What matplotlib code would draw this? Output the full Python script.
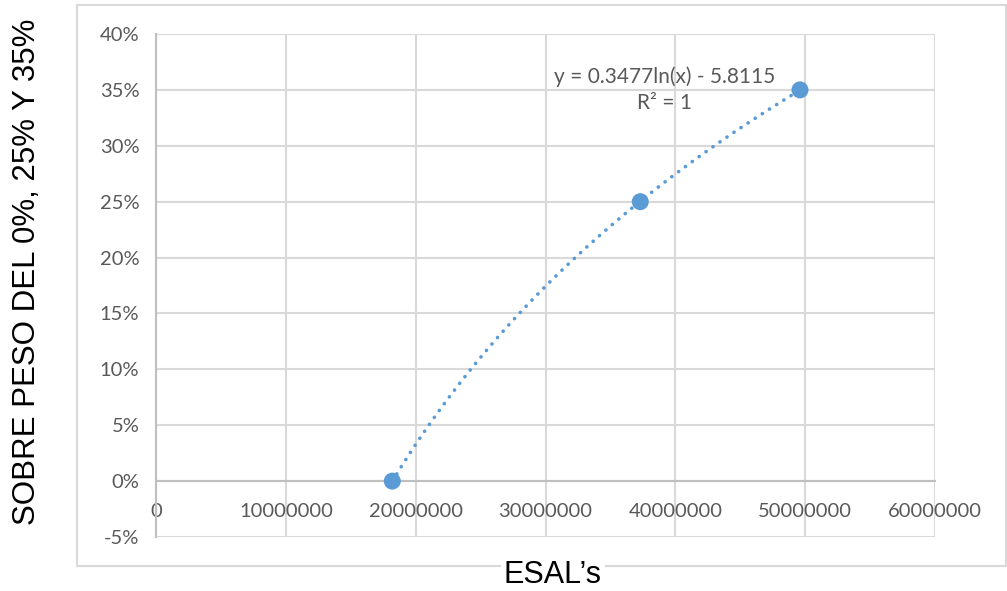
import numpy as np
import matplotlib.pyplot as plt
from matplotlib.patches import Rectangle
from matplotlib.ticker import FuncFormatter

# data
esals = [18200000, 37300000, 49600000]
sobre_peso = [0.00, 0.25, 0.35]
x_ticks = [0, 10000000, 20000000, 30000000, 40000000, 50000000, 60000000]
y_ticks = [-0.05, 0, 0.05, 0.10, 0.15, 0.20, 0.25, 0.30, 0.35, 0.40]

blue = '#5B9BD5'
grid = '#D9D9D9'
axis_gray = '#BFBFBF'
txt = '#595959'
tick_font = ['Lato', 'DejaVu Sans']

fig = plt.figure(figsize=(10.07, 5.91), dpi=100)
ax = fig.add_axes([156 / 1007, 1 - 537 / 591, (935 - 156) / 1007, (537 - 34) / 591])

# chart-area border
fig.add_artist(Rectangle((77 / 1007, 1 - 566 / 591), 0.999 - 77 / 1007, (566 - 5) / 591,
                         transform=fig.transFigure, fill=False, edgecolor=grid, lw=1.5))

# logarithmic trendline fitted on the points
a, b = np.polyfit(np.log(esals), sobre_peso, 1)
xs = np.linspace(min(esals), max(esals), 300)
ax.plot(xs, a * np.log(xs) + b, color=blue, lw=2.6, linestyle=(0, (0.05, 2.3)),
        dash_capstyle='round', zorder=3)
ax.scatter(esals, sobre_peso, s=150, color=blue, zorder=4, edgecolors='none')

ax.text(39150000, 0.35, 'y = 0.3477ln(x) - 5.8115\nR² = 1', ha='center', va='center',
        fontsize=15, color=txt, family=tick_font, linespacing=1.4)

ax.set_xlim(0, 60000000)
ax.set_ylim(-0.05, 0.40)
ax.set_xticks(x_ticks)
ax.set_yticks(y_ticks)
ax.xaxis.set_major_formatter(FuncFormatter(lambda v, p: '%d' % v))
ax.yaxis.set_major_formatter(FuncFormatter(lambda v, p: '%d%%' % round(v * 100)))
ax.grid(True, color=grid, lw=1.5)
ax.set_axisbelow(True)

for s in ['top', 'right']:
    ax.spines[s].set_visible(False)
ax.spines['bottom'].set_position(('data', 0))
ax.spines['bottom'].set_color(axis_gray)
ax.spines['bottom'].set_linewidth(1.5)
ax.spines['left'].set_color(axis_gray)
ax.spines['left'].set_linewidth(1.5)
ax.tick_params(length=0, labelsize=14.5, labelcolor=txt)
ax.tick_params(axis='x', pad=16)
ax.tick_params(axis='y', pad=12)
for lab in ax.get_xticklabels() + ax.get_yticklabels():
    lab.set_family(tick_font)

fig.text(553 / 1007, 1 - 575 / 591, 'ESAL’s', ha='center', va='center', fontsize=22,
         family='Liberation Sans', color='black',
         bbox=dict(facecolor='white', edgecolor='none', pad=2))
fig.text(27 / 1007, 1 - 272 / 591, 'SOBRE PESO DEL 0%, 25% Y 35%', ha='center', va='center',
         rotation=90, fontsize=22.5, family='Liberation Sans', color='black')

fig.savefig('out.png', dpi=100)
